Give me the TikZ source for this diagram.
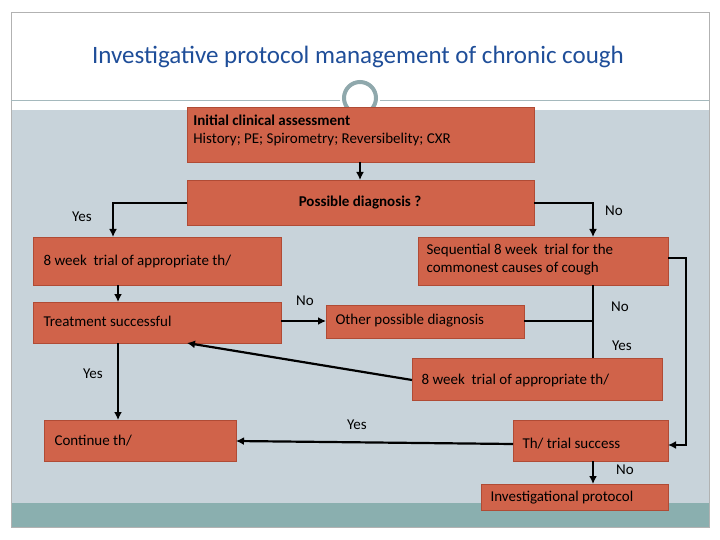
\documentclass[tikz,border=0pt]{standalone}
\usepackage{fontspec}
\setmainfont{Carlito}
\begin{document}
\begin{tikzpicture}[x=1pt,y=-1pt,
 box/.style={draw=boxline,fill=boxfill,line width=0.8pt,inner sep=0pt,text=black,font=\fontsize{15}{18}\selectfont},
 lbl/.style={font=\fontsize{15}{18}\selectfont,text=black},
 con/.style={line width=2.2pt,black},
 arr/.style={con,-{Latex[length=8pt,width=8pt]}}]
\usetikzlibrary{arrows.meta}
\definecolor{boxfill}{HTML}{D0634A}
\definecolor{boxline}{HTML}{B04B35}
\definecolor{bg}{HTML}{C8D3DA}
\definecolor{band}{HTML}{8AAFAF}
\definecolor{ttl}{HTML}{1F4E99}
\definecolor{ring}{HTML}{8FA8AC}
\useasboundingbox (0,0) rectangle (720,540);
\fill[white] (0,0) rectangle (720,540);
\fill[bg] (11,110) rectangle (709,503);
\fill[band] (11,503) rectangle (709,527);
\draw[gray!60] (11,12) rectangle (709,527);
\draw[ring!80,line width=0.8pt] (11,100) -- (340,100) (380,100) -- (709,100);
\draw[ring,line width=4pt] (360,98) circle (16);
\node[text=ttl,font=\fontsize{25}{30}\selectfont] (title) at (358,57) {Investigative protocol management of chronic cough};
% boxes
\path[box] (187,107) rectangle (534,162);
\node[box,draw=none,fill=none,anchor=north west,align=left] (init) at (193,115) {\textbf{Initial clinical assessment}\\History; PE; Spirometry; Reversibelity; CXR};
\coordinate (initS) at (360,162);
\path[box] (187,180) rectangle (534,225);
\node[lbl] (poss) at (360,203) {\textbf{Possible diagnosis ?}};
\path[box] (33,237) rectangle (281,285);
\node[lbl,anchor=west] (t1) at (40,262) {8 week\ \ trial of appropriate th/};
\path[box] (418,237) rectangle (668,285);
\node[lbl,anchor=west,align=left] (seq) at (423,260) {Sequential 8 week\ \ trial for the\\commonest causes of cough};
\path[box] (33,302) rectangle (281,343);
\node[lbl,anchor=west] (treat) at (40,321) {Treatment successful};
\path[box] (326,305) rectangle (524,338);
\node[lbl,anchor=west] (other) at (332,321) {Other possible diagnosis};
\path[box] (412,358) rectangle (662,400);
\node[lbl,anchor=west] (t2) at (418,380) {8 week\ \ trial of appropriate th/};
\path[box] (44,420) rectangle (236,461);
\node[lbl,anchor=west] (cont) at (51,441) {Continue th/};
\path[box] (513,420) rectangle (668,461);
\node[lbl,anchor=west] (suc) at (519,444) {Th/ trial success};
\path[box] (481,484) rectangle (668,510);
\node[lbl,anchor=west] (inv) at (487,498) {Investigational protocol};
% connectors
\draw[arr] (360,162) -- (360,180);
\draw[arr] (187,203) -- (113,203) -- (113,237);
\draw[arr] (534,203) -- (593,203) -- (593,237);
\draw[arr] (668,258) -- (686,258) -- (686,445) -- (668,445);
\draw[arr] (118,285) -- (118,302);
\draw[arr] (281,321) -- (326,321);
\draw[con] (524,321) -- (593,321);
\draw[con] (593,285) -- (593,358);
\draw[arr] (412,380) -- (187,343);
\draw[arr] (118,343) -- (118,420);
\draw[arr] (513,444) -- (236,441);
\draw[arr] (593,461) -- (593,484);
% labels
\node[lbl] (y1) at (82,217) {Yes};
\node[lbl] (n1) at (614,211) {No};
\node[lbl] (n2) at (305,301) {No};
\node[lbl] (n3) at (620,307) {No};
\node[lbl] (y2) at (622,346) {Yes};
\node[lbl] (y3) at (93,374) {Yes};
\node[lbl] (y4) at (357,425) {Yes};
\node[lbl] (n4) at (625,470) {No};
\end{tikzpicture}
\end{document}
